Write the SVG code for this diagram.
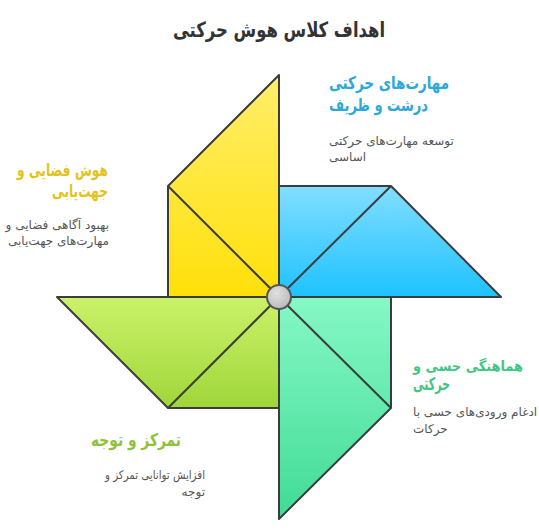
<svg xmlns="http://www.w3.org/2000/svg" width="539" height="531" viewBox="0 0 539 531">
<defs>
<linearGradient id="gy" x1="0" y1="0" x2="0" y2="1"><stop offset="0" stop-color="#FFEE6A"/><stop offset="1" stop-color="#FFE00A"/></linearGradient>
<linearGradient id="gb" x1="0" y1="0" x2="0" y2="1"><stop offset="0" stop-color="#82DEFF"/><stop offset="1" stop-color="#1EC2FF"/></linearGradient>
<linearGradient id="gg" x1="0" y1="0" x2="0" y2="1"><stop offset="0" stop-color="#86F8C6"/><stop offset="1" stop-color="#40DB95"/></linearGradient>
<linearGradient id="gl" x1="0" y1="0" x2="0" y2="1"><stop offset="0" stop-color="#CBF26A"/><stop offset="1" stop-color="#9FD63A"/></linearGradient>
<radialGradient id="gc" cx="0.4" cy="0.35" r="0.7"><stop offset="0" stop-color="#E0E0E0"/><stop offset="1" stop-color="#B8B8B8"/></radialGradient>
</defs>
<style>
text{font-family:"DejaVu Sans","Noto Sans",sans-serif;direction:rtl}
.h{font-size:17.5px;font-weight:bold}
.b{font-size:12px;fill:#555}
.blade{stroke:#3C3C3C;stroke-width:2;stroke-linejoin:round}
.ln{stroke:#3C3C3C;stroke-width:2;fill:none}
</style>
<text x="279" y="37" text-anchor="middle" textLength="212" lengthAdjust="spacingAndGlyphs" style="font-size:21px;font-weight:bold;fill:#333">اهداف کلاس هوش حرکتی</text>
<g id="yellow">
<polygon class="blade" fill="url(#gy)" points="279,75 279,297 168,297 168,186"/>
<line class="ln" x1="168" y1="186" x2="279" y2="297"/>
</g>
<g id="blue">
<polygon class="blade" fill="url(#gb)" points="279,186 391,186 501,297 279,297"/>
<line class="ln" x1="391" y1="186" x2="279" y2="297"/>
</g>
<g id="green">
<polygon class="blade" fill="url(#gg)" points="279,297 391,297 391,408 279,519"/>
<line class="ln" x1="391" y1="408" x2="279" y2="297"/>
</g>
<g id="lime">
<polygon class="blade" fill="url(#gl)" points="279,297 279,408 168,408 57,297"/>
<line class="ln" x1="168" y1="408" x2="279" y2="297"/>
</g>
<g id="hub"><circle cx="279" cy="297" r="12" fill="url(#gc)" stroke="#555" stroke-width="2"/></g>
<g id="label-blue">
<text class="h" fill="#2EA8D5" x="329" y="89" text-anchor="end" textLength="120" lengthAdjust="spacingAndGlyphs">مهارت‌های حرکتی</text>
<text class="h" fill="#2EA8D5" x="329" y="111" text-anchor="end" textLength="99" lengthAdjust="spacingAndGlyphs">درشت و ظریف</text>
<text class="b" x="329" y="145" text-anchor="end">توسعه مهارت‌های حرکتی</text>
<text class="b" x="329" y="161" text-anchor="end">اساسی</text>
</g>
<g id="label-yellow">
<text class="h" fill="#E2C31E" x="108" y="176" text-anchor="start" textLength="91" lengthAdjust="spacingAndGlyphs">هوش فضایی و</text>
<text class="h" fill="#E2C31E" x="108" y="197" text-anchor="start" textLength="56" lengthAdjust="spacingAndGlyphs">جهت‌یابی</text>
<text class="b" x="109" y="229" text-anchor="start">بهبود آگاهی فضایی و</text>
<text class="b" x="109" y="245" text-anchor="start">مهارت‌های جهت‌یابی</text>
</g>
<g id="label-green">
<text class="h" fill="#3FC683" x="413" y="371" text-anchor="end" textLength="110" lengthAdjust="spacingAndGlyphs" style="font-size:14.5px">هماهنگی حسی و</text>
<text class="h" fill="#3FC683" x="413" y="390" text-anchor="end" textLength="37" lengthAdjust="spacingAndGlyphs">حرکتی</text>
<text class="b" x="413" y="416" text-anchor="end">ادغام ورودی‌های حسی با</text>
<text class="b" x="413" y="433" text-anchor="end">حرکات</text>
</g>
<g id="label-lime">
<text class="h" fill="#8DC23A" x="181" y="446" text-anchor="start" textLength="90" lengthAdjust="spacingAndGlyphs">تمرکز و توجه</text>
<text class="b" x="205" y="479" text-anchor="start" textLength="100" lengthAdjust="spacingAndGlyphs">افزایش توانایی تمرکز و</text>
<text class="b" x="205" y="496" text-anchor="start">توجه</text>
</g>
</svg>
